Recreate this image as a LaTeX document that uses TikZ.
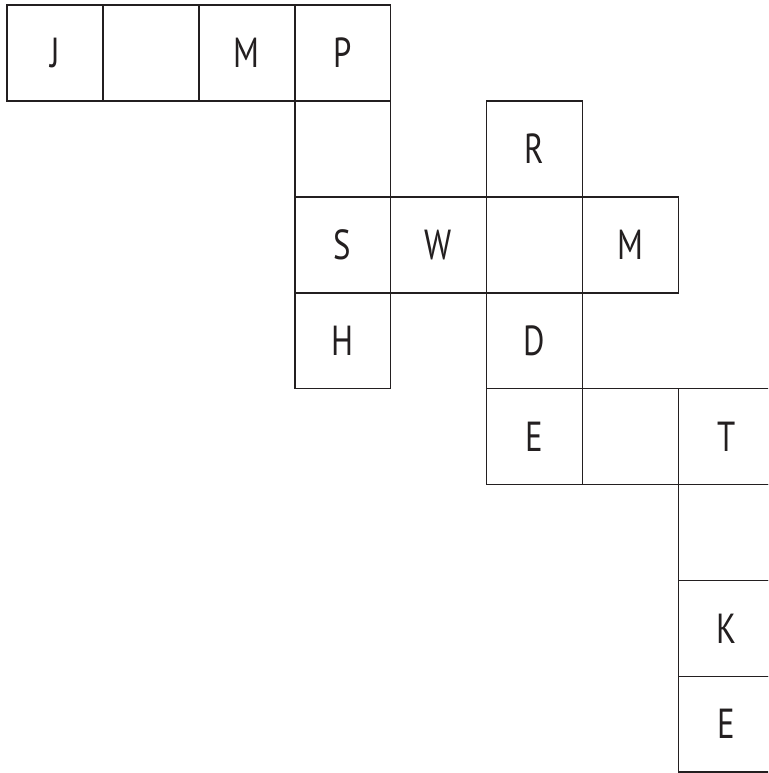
\documentclass[tikz,border=0pt]{standalone}
\usepackage{fontspec}
\setmainfont{PT Sans}
\definecolor{gridline}{HTML}{231F20}
\newcommand{\narrowletter}[1]{\scalebox{0.78}[1]{#1}}
\begin{document}
\begin{tikzpicture}[x=1pt,y=-1pt,
  cell/.style={draw=gridline,line width=1.6pt,minimum size=95.9pt,inner sep=0pt,
    text=gridline,font=\fontsize{42}{42}\selectfont}]
\useasboundingbox (0,0) rectangle (768,773);
\clip (0,0) rectangle (768,773);
\foreach \c/\r/\t in {0/0/J,1/0/,2/0/M,3/0/P,
  3/1/,5/1/R,
  3/2/S,4/2/W,5/2/,6/2/M,
  3/3/H,5/3/D,
  5/4/E,6/4/,7/4/T,
  7/5/,7/6/K,7/7/E}
  \node[cell] (c-\c-\r) at ({7+95.9*(\c+0.5)},{5+95.9*(\r+0.5)}) {\narrowletter{\t}};
\end{tikzpicture}
\end{document}
